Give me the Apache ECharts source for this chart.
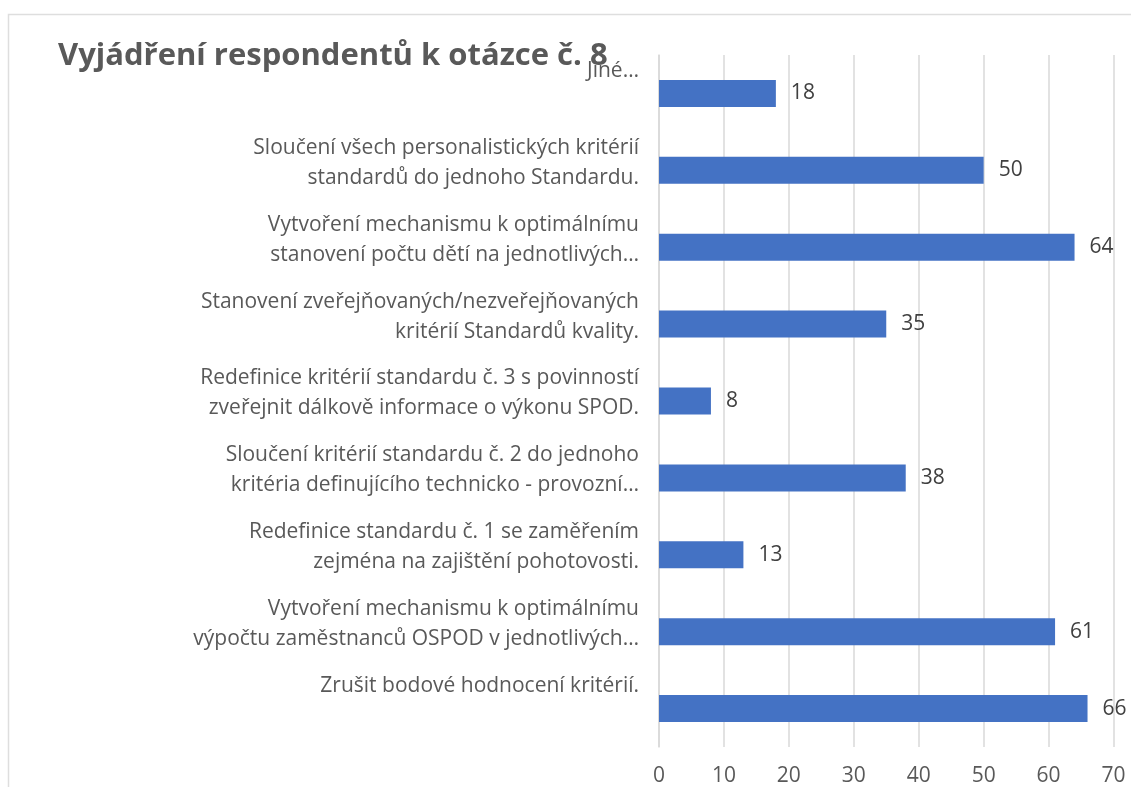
<!DOCTYPE html>
<html>
<head>
<meta charset="utf-8">
<script src="https://cdn.jsdelivr.net/npm/echarts@6/dist/echarts.min.js"></script>
<style>
  html, body { margin: 0; padding: 0; background: #fff; }
  #chart { width: 1131px; height: 787px; }
</style>
</head>
<body>
<div id="chart"></div>
<script>
// kategorie shora dolů
const categories = [
  'Jiné…',
  'Sloučení všech personalistických kritérií\nstandardů do jednoho Standardu.',
  'Vytvoření mechanismu k optimálnímu\nstanovení počtu dětí na jednotlivých…',
  'Stanovení zveřejňovaných/nezveřejňovaných\nkritérií Standardů kvality.',
  'Redefinice kritérií standardu č. 3 s povinností\nzveřejnit dálkově informace o výkonu SPOD.',
  'Sloučení kritérií standardu č. 2 do jednoho\nkritéria definujícího technicko - provozní…',
  'Redefinice standardu č. 1 se zaměřením\nzejména na zajištění pohotovosti.',
  'Vytvoření mechanismu k optimálnímu\nvýpočtu zaměstnanců OSPOD v jednotlivých…',
  'Zrušit bodové hodnocení kritérií.'
];
const values = [18, 50, 64, 35, 8, 38, 13, 61, 66];
const axisMax = 70;
const axisStep = 10;

const chart = echarts.init(document.getElementById('chart'));
const fontFam = '"Open Sans", "Noto Sans", sans-serif';

chart.setOption({
  animation: false,
  title: {
    text: 'Vyjádření respondentů k otázce č. 8',
    left: 53,
    top: 36,
    textStyle: { fontFamily: fontFam, fontSize: 31, fontWeight: 'bold', color: '#595959' }
  },
  graphic: [{
    type: 'rect',
    shape: { x: 8.5, y: 14.5, width: 1140, height: 800 },
    style: { fill: 'none', stroke: '#dedede', lineWidth: 1.5 },
    silent: true
  }],
  grid: { left: 659, right: 17.5, top: 55, bottom: 39 },
  xAxis: {
    type: 'value',
    min: 0,
    max: axisMax,
    interval: axisStep,
    axisLine: { show: false },
    axisTick: { show: false },
    splitLine: { lineStyle: { color: '#d9d9d9', width: 1.5 } },
    axisLabel: { fontFamily: fontFam, fontSize: 21, color: '#595959', margin: 19 }
  },
  yAxis: {
    type: 'category',
    inverse: true,
    data: categories,
    axisLine: { lineStyle: { color: '#d9d9d9', width: 1.5 } },
    axisTick: { length: 8, lineStyle: { color: '#d9d9d9', width: 1.5 } },
    axisLabel: {
      interval: 0,
      hideOverlap: false,
      showMinLabel: true,
      showMaxLabel: true,
      fontFamily: fontFam, fontSize: 21, color: '#595959',
      lineHeight: 30, align: 'right', margin: 20,
      // Excel posouvá popisky nahoru - prázdný řádek navíc dole
      formatter: v => (v.indexOf('\n') < 0 ? v + '\n ' : v) + '\n{s| }',
      rich: { s: { lineHeight: 15, fontSize: 10 } }
    }
  },
  series: [{
    type: 'bar',
    data: values,
    barWidth: 27,
    itemStyle: { color: '#4472c4' },
    label: {
      show: true,
      position: 'right',
      distance: 15,
      fontFamily: fontFam,
      fontSize: 21,
      color: '#404040'
    }
  }]
});
</script>
</body>
</html>
